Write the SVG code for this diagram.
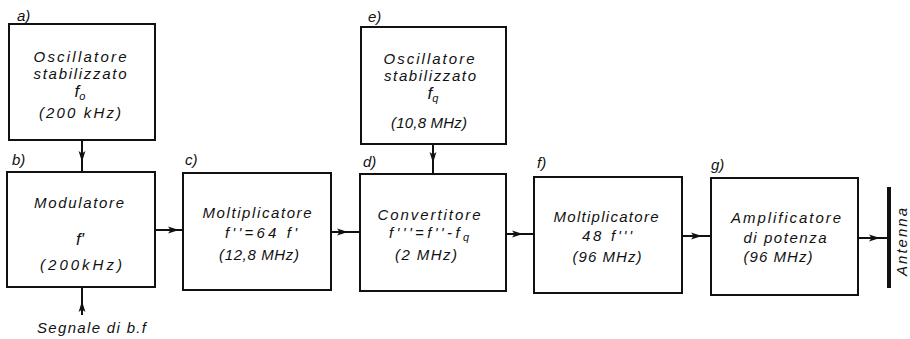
<svg xmlns="http://www.w3.org/2000/svg" width="910" height="339" viewBox="0 0 910 339">
<defs>
<marker id="ah" markerUnits="userSpaceOnUse" markerWidth="12" markerHeight="8" refX="11" refY="4" orient="auto">
<path d="M0,0.6 L11,4 L0,7.4 L2.5,4 z" fill="#111"/>
</marker>
<style>
.box{fill:#fff;stroke:#111;stroke-width:2}
.t{font-family:"Liberation Sans",Arial,sans-serif;font-style:italic;font-size:15px;fill:#111;text-anchor:middle}
.lb{font-family:"Liberation Sans",Arial,sans-serif;font-style:italic;font-size:15px;fill:#111}
.c{fill:none;stroke:#111;stroke-width:2;marker-mid:url(#ah)}
.sub{font-size:11px}
.big{font-size:17px}
</style>
</defs>
<rect width="910" height="339" fill="#fff"/>

<g id="connectors">
<path class="c" d="M82,140 L82,162 L82,172"/>
<path class="c" d="M433,144 L433,163 L433,174"/>
<path class="c" d="M82,315 L82,301 L82,287"/>
<path class="c" d="M155,230 L179,230 L183,230"/>
<path class="c" d="M331,232 L348,232 L360,232"/>
<path class="c" d="M506,234 L523,234 L534,234"/>
<path class="c" d="M682,236 L702,236 L711,236"/>
<path class="c" d="M858,238 L880,238 L889,238"/>
</g>

<g id="node-a">
<rect class="box" x="9" y="24" width="146" height="116"/>
<text class="lb" x="17" y="21">a)</text>
<text class="t" x="80" y="62" textLength="93" lengthAdjust="spacing">Oscillatore</text>
<text class="t" x="80" y="79" textLength="93" lengthAdjust="spacing">stabilizzato</text>
<text class="t big" x="80" y="97">f<tspan class="sub" dy="3">o</tspan></text>
<text class="t" x="80" y="118" textLength="82" lengthAdjust="spacing">(200 kHz)</text>
</g>

<g id="node-b">
<rect class="box" x="7" y="172" width="148" height="115"/>
<text class="lb" x="12" y="165">b)</text>
<text class="t" x="79" y="208" textLength="90" lengthAdjust="spacing">Modulatore</text>
<text class="t big" x="80" y="245">f'</text>
<text class="t" x="81" y="270" textLength="82" lengthAdjust="spacing">(200kHz)</text>
<text class="lb" x="37" y="333" textLength="109" lengthAdjust="spacing">Segnale di b.f</text>
</g>

<g id="node-c">
<rect class="box" x="183" y="173" width="148" height="117"/>
<text class="lb" x="185" y="165">c)</text>
<text class="t" x="257" y="218" textLength="109" lengthAdjust="spacing">Moltiplicatore</text>
<text class="t" x="261" y="238" textLength="72" lengthAdjust="spacing">f''=64 f'</text>
<text class="t" x="259" y="260" textLength="80" lengthAdjust="spacing">(12,8 MHz)</text>
</g>

<g id="node-e">
<rect class="box" x="361" y="27" width="145" height="117"/>
<text class="lb" x="368" y="22">e)</text>
<text class="t" x="429" y="64" textLength="91" lengthAdjust="spacing">Oscillatore</text>
<text class="t" x="430" y="81" textLength="92" lengthAdjust="spacing">stabilizzato</text>
<text class="t big" x="433" y="99">f<tspan class="sub" dy="3">q</tspan></text>
<text class="t" x="429" y="128" textLength="76" lengthAdjust="spacing">(10,8 MHz)</text>
</g>

<g id="node-d">
<rect class="box" x="360" y="174" width="146" height="117"/>
<text class="lb" x="363" y="167">d)</text>
<text class="t" x="429" y="220" textLength="103" lengthAdjust="spacing">Convertitore</text>
<text class="t" x="429" y="238" textLength="80" lengthAdjust="spacing">f'''=f''-f<tspan class="sub" dy="3">q</tspan></text>
<text class="t" x="426" y="260" textLength="62" lengthAdjust="spacing">(2 MHz)</text>
</g>

<g id="node-f">
<rect class="box" x="534" y="177" width="148" height="116"/>
<text class="lb" x="537" y="168">f)</text>
<text class="t" x="606" y="222" textLength="105" lengthAdjust="spacing">Moltiplicatore</text>
<text class="t" x="607" y="241" textLength="50" lengthAdjust="spacing">48 f'''</text>
<text class="t" x="607" y="262" textLength="69" lengthAdjust="spacing">(96 MHz)</text>
</g>

<g id="node-g">
<rect class="box" x="711" y="178" width="147" height="117"/>
<text class="lb" x="711" y="170">g)</text>
<text class="t" x="786" y="223" textLength="110" lengthAdjust="spacing">Amplificatore</text>
<text class="t" x="785" y="243" textLength="83" lengthAdjust="spacing">di potenza</text>
<text class="t" x="778" y="262" textLength="69" lengthAdjust="spacing">(96 MHz)</text>
</g>

<g id="antenna">
<line x1="889" y1="187" x2="889" y2="288" stroke="#111" stroke-width="4"/>
<text class="t" transform="translate(907,242) rotate(-90)" textLength="68" lengthAdjust="spacing">Antenna</text>
</g>
</svg>
